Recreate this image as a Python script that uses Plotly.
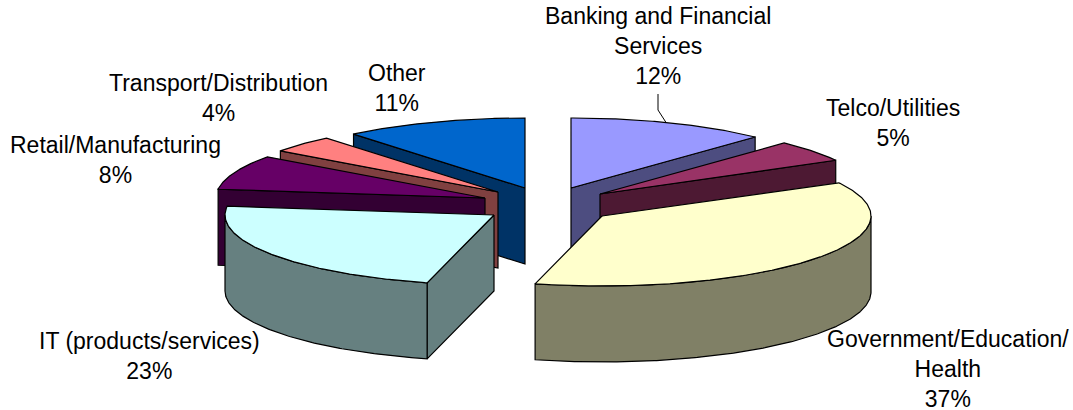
import math
import plotly.graph_objects as go

categories = ["Banking and Financial<br>Services", "Telco/Utilities", "Government/Education/<br>Health",
              "IT (products/services)", "Retail/Manufacturing", "Transport/Distribution", "Other"]
values = [12, 5, 37, 23, 8, 4, 11]
top_colors = ["#9999FF", "#993366", "#FFFFCC", "#CCFFFF", "#660066", "#FF8080", "#0066CC"]
side_colors = ["#4D4D80", "#4D1933", "#808066", "#668080", "#330033", "#804040", "#003366"]
apex_x = [571, 600, 602, 494, 485, 498, 525]
apex_y = [188, 194, 216, 215, 198, 192, 188]
label_x = [658, 893, 948, 149, 115, 218, 397]
label_y = [46, 123, 369, 356, 160, 98, 88]
draw_order = [0, 1, 2, 6, 5, 4, 3]

RX, RY, DEPTH = 269, 70, 76


def rim(cx, cy, deg):
    t = math.radians(deg)
    return cx + RX * math.sin(t), cy - RY * math.cos(t)


def arc(cx, cy, a, b):
    n = max(2, int(abs(b - a) * 2))
    return [rim(cx, cy, a + (b - a) * i / n) for i in range(n + 1)]


fig = go.Figure()


def poly(pts, color, name):
    xs = [p[0] for p in pts] + [pts[0][0]]
    ys = [p[1] for p in pts] + [pts[0][1]]
    fig.add_trace(go.Scatter(x=xs, y=ys, mode="lines", fill="toself", fillcolor=color,
                             line=dict(color="black", width=1.2), hoverinfo="text", text=name,
                             showlegend=False))


total = sum(values)
starts = []
acc = 0
for v in values:
    starts.append(acc / total * 360)
    acc += v

for i in draw_order:
    a = starts[i]
    b = a + values[i] / total * 360
    cx, cy = apex_x[i], apex_y[i]
    name = categories[i].replace("<br>", " ")
    # Radial cut faces that face the viewer
    if math.sin(math.radians(a)) < 0:
        p = rim(cx, cy, a)
        poly([(cx, cy), p, (p[0], p[1] + DEPTH), (cx, cy + DEPTH)], side_colors[i], name)
    if math.sin(math.radians(b)) > 0:
        p = rim(cx, cy, b)
        poly([(cx, cy), p, (p[0], p[1] + DEPTH), (cx, cy + DEPTH)], side_colors[i], name)
    # Outer wall for the front half of the rim
    lo, hi = max(a, 90), min(b, 270)
    if hi > lo:
        edge = arc(cx, cy, lo, hi)
        poly(edge + [(x, y + DEPTH) for x, y in reversed(edge)], side_colors[i], name)
    # Top face
    poly([(cx, cy)] + arc(cx, cy, a, b), top_colors[i], name)

for c, v, x, y in zip(categories, values, label_x, label_y):
    fig.add_annotation(x=x, y=y, text=f"{c}<br>{v}%", showarrow=False, xanchor="center", yanchor="middle",
                       align="center", font=dict(family="Liberation Sans, Arial, sans-serif", size=23, color="black"))

# Leader line for the Banking label
fig.add_shape(type="path", path="M 658 94 L 658 110 L 667 124", line=dict(color="black", width=1), layer="below")

fig.update_layout(width=1073, height=410, margin=dict(l=0, r=0, t=0, b=0), paper_bgcolor="white",
                  plot_bgcolor="white",
                  xaxis=dict(range=[0, 1073], visible=False, fixedrange=True),
                  yaxis=dict(range=[410, 0], visible=False, fixedrange=True))
fig.write_html("out.html", config={"displayModeBar": False},
               post_script="document.body.style.margin='0';document.body.style.overflow='hidden';")
